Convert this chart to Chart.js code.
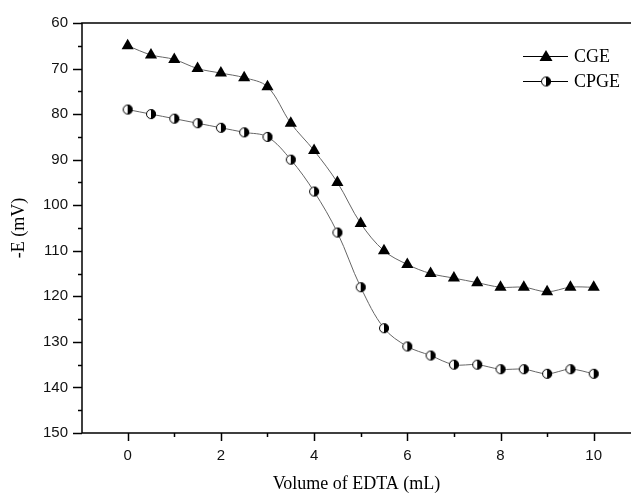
<!DOCTYPE html>
<html>
<head>
<meta charset="utf-8">
<script src="https://cdn.jsdelivr.net/npm/chart.js@4/dist/chart.umd.min.js"></script>
<style>
    html, body { margin: 0; padding: 0; background: #fff; }
    #wrap { width: 632px; height: 495px; }
</style>
</head>
<body>
<div id="wrap"><canvas id="titration"></canvas></div>
<script>
// Data.
var volumes = [0, 0.5, 1, 1.5, 2, 2.5, 3, 3.5, 4, 4.5, 5, 5.5, 6, 6.5, 7, 7.5, 8, 8.5, 9, 9.5, 10];
var cgeValues = [65, 67, 68, 70, 71, 72, 74, 82, 88, 95, 104, 110, 113, 115, 116, 117, 118, 118, 119, 118, 118];
var cpgeValues = [79, 80, 81, 82, 83, 84, 85, 90, 97, 106, 118, 127, 131, 133, 135, 135, 136, 136, 137, 136, 137];
var seriesNames = ["CGE", "CPGE"];
var xTicks = [0, 1, 2, 3, 4, 5, 6, 7, 8, 9, 10];
var yTicks = [60, 65, 70, 75, 80, 85, 90, 95, 100, 105, 110, 115, 120, 125, 130, 135, 140, 145, 150];

function pairs(ys) {
    return volumes.map(function(x, i) { return {x: x, y: ys[i]}; });
}

// Half filled circle marker (left white, right black).
function halfCircle(r) {
    var c = document.createElement("canvas");
    var s = 2 * r + 2;
    c.width = s; c.height = s;
    var g = c.getContext("2d");
    var m = s / 2;
    g.fillStyle = "#fff";
    g.beginPath(); g.arc(m, m, r, Math.PI / 2, Math.PI * 1.5); g.fill();
    g.fillStyle = "#000";
    g.beginPath(); g.arc(m, m, r, -Math.PI / 2, Math.PI / 2); g.fill();
    g.strokeStyle = "#000"; g.lineWidth = 1;
    g.beginPath(); g.arc(m, m, r - 0.5, 0, Math.PI * 2); g.stroke();
    return c;
}
var halfMarker = halfCircle(5);

// Frame plus outward ticks, long for majors and short for minors.
var tickPlugin = {
    id: "ticks",
    afterDraw: function(chart) {
        var ctx = chart.ctx, xs = chart.scales.x, ys = chart.scales.y;
        var a = chart.chartArea;
        ctx.save();
        ctx.strokeStyle = "#000";
        ctx.lineWidth = 1.5;
        ctx.beginPath();
        ctx.moveTo(a.right, a.top); ctx.lineTo(a.left, a.top);
        ctx.lineTo(a.left, a.bottom); ctx.lineTo(a.right, a.bottom);
        ctx.stroke();
        xTicks.forEach(function(v) {
            var px = Math.round(xs.getPixelForValue(v)) + 0.5;
            var len = v % 2 === 0 ? 8 : 4;
            ctx.beginPath(); ctx.moveTo(px, a.bottom); ctx.lineTo(px, a.bottom + len); ctx.stroke();
        });
        yTicks.forEach(function(v) {
            var py = Math.round(ys.getPixelForValue(v)) + 0.5;
            var len = v % 10 === 0 ? 9 : 4;
            ctx.beginPath(); ctx.moveTo(a.left, py); ctx.lineTo(a.left - len, py); ctx.stroke();
        });
        ctx.restore();
    }
};

// Legend with a line through each marker.
var legendPlugin = {
    id: "lineLegend",
    afterDraw: function(chart) {
        var ctx = chart.ctx;
        var rows = [{y: 56, name: seriesNames[0], tri: true}, {y: 81, name: seriesNames[1], tri: false}];
        ctx.save();
        rows.forEach(function(r) {
            ctx.strokeStyle = "#000"; ctx.lineWidth = 1;
            ctx.beginPath(); ctx.moveTo(523, r.y + 0.5); ctx.lineTo(568, r.y + 0.5); ctx.stroke();
            if (r.tri) {
                ctx.fillStyle = "#000";
                ctx.beginPath(); ctx.moveTo(546, r.y - 6); ctx.lineTo(552.5, r.y + 5); ctx.lineTo(539.5, r.y + 5);
                ctx.closePath(); ctx.fill();
            } else {
                ctx.drawImage(halfMarker, 546 - halfMarker.width / 2, r.y - halfMarker.height / 2 + 0.5);
            }
            ctx.fillStyle = "#000";
            ctx.font = "18px 'Liberation Serif'";
            ctx.textBaseline = "middle";
            ctx.fillText(r.name, 574, r.y + 1);
        });
        ctx.restore();
    }
};

new Chart(document.getElementById("titration"), {
    type: "line",
    data: {
        datasets: [{
            label: seriesNames[0],
            data: pairs(cgeValues),
            borderColor: "#666",
            borderWidth: 1,
            tension: 0.35,
            pointStyle: "triangle",
            pointRadius: 7,
            pointBackgroundColor: "#000",
            pointBorderColor: "#000",
            pointBorderWidth: 0
        }, {
            label: seriesNames[1],
            data: pairs(cpgeValues),
            borderColor: "#666",
            borderWidth: 1,
            tension: 0.35,
            pointStyle: halfMarker
        }]
    },
    plugins: [tickPlugin, legendPlugin],
    options: {
        responsive: true,
        maintainAspectRatio: false,
        animation: false,
        layout: {autoPadding: false, padding: {top: 23, right: 1, left: 0, bottom: 0}},
        plugins: {legend: {display: false}, tooltip: {enabled: false}},
        scales: {
            x: {
                type: "linear",
                min: -0.98,
                max: 10.8,
                border: {display: false},
                grid: {display: false, drawTicks: false},
                afterBuildTicks: function(s) { s.ticks = xTicks.map(function(v) { return {value: v}; }); },
                afterFit: function(s) { s.height = 62; },
                ticks: {
                    color: "#111",
                    font: {family: "'Liberation Sans'", size: 15},
                    padding: 14,
                    maxRotation: 0,
                    callback: function(v) { return v % 2 === 0 ? String(v) : ""; }
                },
                title: {
                    display: true,
                    text: "Volume of EDTA (mL)",
                    color: "#000",
                    font: {family: "'Liberation Serif'", size: 18},
                    padding: {top: 0, bottom: 0}
                }
            },
            y: {
                type: "linear",
                reverse: true,
                min: 60,
                max: 150,
                border: {display: false},
                grid: {display: false, drawTicks: false},
                afterBuildTicks: function(s) { s.ticks = yTicks.map(function(v) { return {value: v}; }); },
                afterFit: function(s) { s.width = 82; },
                ticks: {
                    color: "#111",
                    font: {family: "'Liberation Sans'", size: 15},
                    padding: 14,
                    callback: function(v) { return v % 10 === 0 ? String(v) : ""; }
                },
                title: {
                    display: true,
                    text: "-E (mV)",
                    color: "#000",
                    font: {family: "'Liberation Serif'", size: 18},
                    padding: {top: 8, bottom: 0}
                }
            }
        }
    }
});
</script>
</body>
</html>
